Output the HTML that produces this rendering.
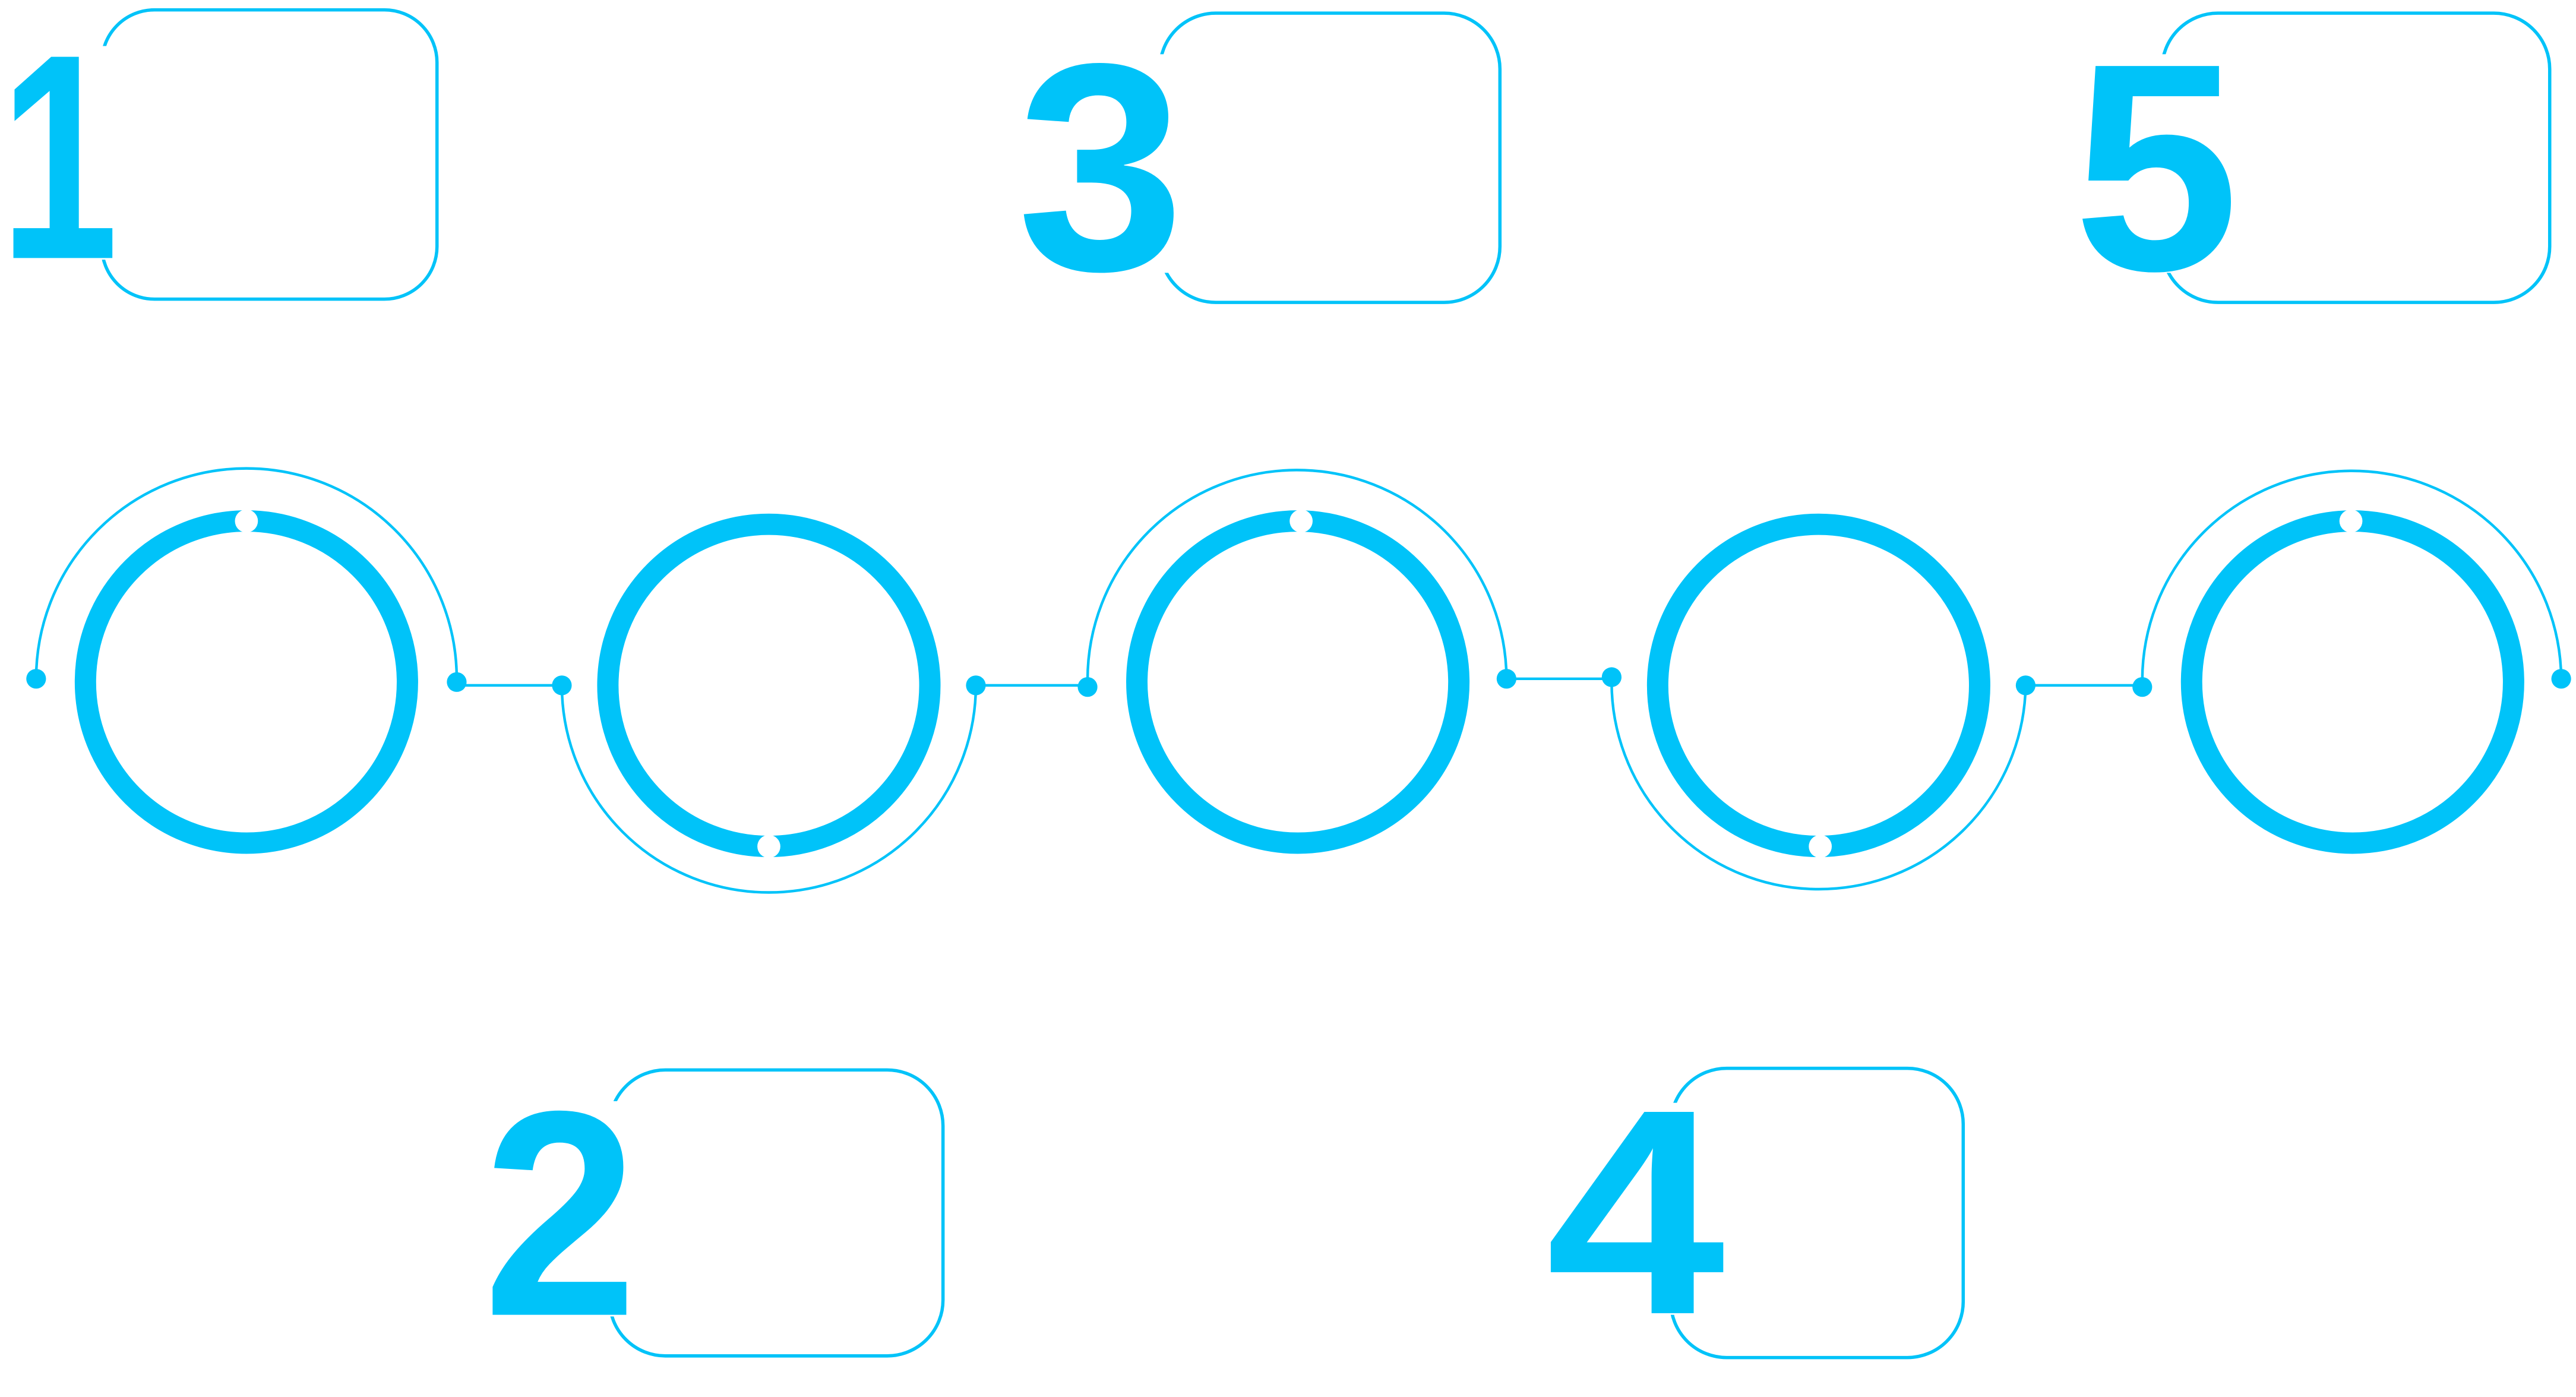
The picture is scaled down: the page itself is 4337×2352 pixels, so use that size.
<!DOCTYPE html>
<html><head><meta charset="utf-8"><style>
html,body{margin:0;padding:0;background:#fff;}
svg{display:block;}
text{font-family:"Liberation Sans",sans-serif;font-weight:bold;fill:#00c3f9;}
</style></head><body>
<svg width="4337" height="2352" viewBox="0 0 1568 850" preserveAspectRatio="none" xmlns="http://www.w3.org/2000/svg">
<g fill="none" stroke="#00c3f9">
<rect x="62" y="6" width="204" height="176" rx="32" stroke-width="2"/>
<rect x="706" y="8" width="207" height="176" rx="34" stroke-width="2"/>
<rect x="1316" y="8" width="236" height="176" rx="34" stroke-width="2"/>
<rect x="371" y="651" width="203" height="174" rx="34" stroke-width="2"/>
<rect x="1017" y="650" width="178" height="176" rx="34" stroke-width="2"/>
<circle cx="150" cy="415" r="98" stroke-width="13"/>
<circle cx="468" cy="417" r="98" stroke-width="13"/>
<circle cx="790" cy="415" r="98" stroke-width="13"/>
<circle cx="1107" cy="417" r="98" stroke-width="13"/>
<circle cx="1432" cy="415" r="98" stroke-width="13"/>
<path d="M22 413 A1 1 0 0 1 278 413" stroke-width="1.6"/>
<path d="M342 417 A1 1 0 0 0 594 417" stroke-width="1.6"/>
<path d="M662 414 A1 1 0 0 1 917 413" stroke-width="1.6"/>
<path d="M981 413 A1 1 0 0 0 1233 417" stroke-width="1.6"/>
<path d="M1304 415 A1 1 0 0 1 1559 413" stroke-width="1.6"/>
<line x1="278" y1="417" x2="342" y2="417" stroke-width="1.6"/>
<line x1="594" y1="417" x2="662" y2="417" stroke-width="1.6"/>
<line x1="917" y1="413" x2="981" y2="413" stroke-width="1.6"/>
<line x1="1233" y1="417" x2="1304" y2="417" stroke-width="1.6"/>
</g>
<g fill="#00c3f9">
<circle cx="22" cy="413" r="6"/><circle cx="278" cy="415" r="6"/><circle cx="342" cy="417" r="6"/>
<circle cx="594" cy="417" r="6"/><circle cx="662" cy="418" r="6"/><circle cx="917" cy="413" r="6"/>
<circle cx="981" cy="412" r="6"/><circle cx="1233" cy="417" r="6"/><circle cx="1304" cy="418" r="6"/>
<circle cx="1559" cy="413" r="6"/>
</g>
<g fill="#fff">
<circle cx="150" cy="317" r="7"/><circle cx="468" cy="515" r="7"/><circle cx="792" cy="317" r="7"/>
<circle cx="1108" cy="515" r="7"/><circle cx="1431" cy="317" r="7"/>
<rect x="1" y="28" width="72" height="130"/>
<rect x="619" y="33" width="102" height="133"/>
<rect x="1262" y="33" width="101" height="133"/>
<rect x="294" y="670" width="94" height="131"/>
<rect x="941" y="671" width="109" height="129"/>
</g>
<text x="0" y="157" font-size="178" textLength="72" lengthAdjust="spacingAndGlyphs">1</text>
<text x="619" y="164" font-size="180" textLength="102" lengthAdjust="spacingAndGlyphs">3</text>
<text x="1262" y="164" font-size="180" textLength="101" lengthAdjust="spacingAndGlyphs">5</text>
<text x="294" y="800" font-size="178" textLength="94" lengthAdjust="spacingAndGlyphs">2</text>
<text x="941" y="799" font-size="178" textLength="109" lengthAdjust="spacingAndGlyphs">4</text>
</svg>
</body></html>
